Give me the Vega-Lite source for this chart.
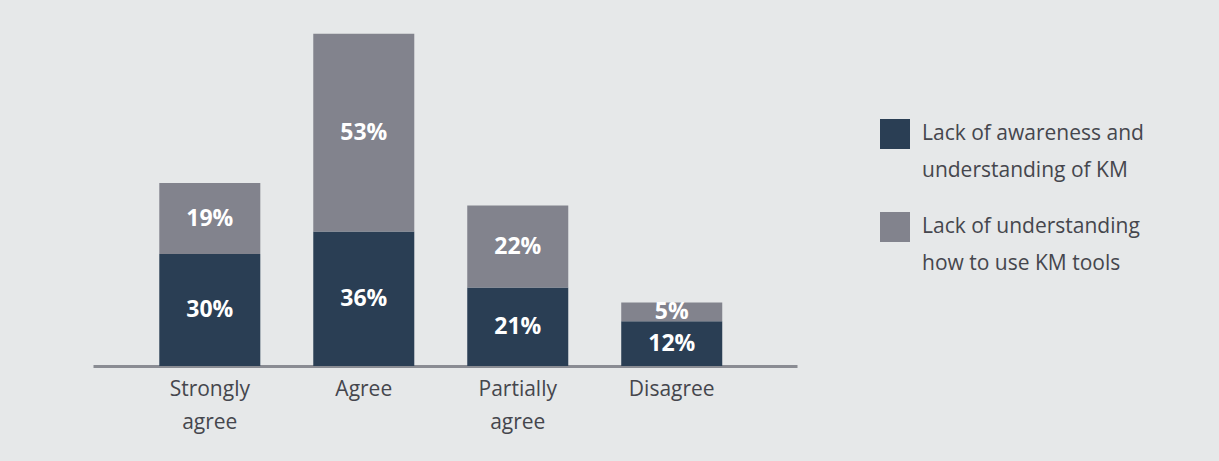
{
  "$schema": "https://vega.github.io/schema/vega-lite/v6.json",
  "width": 704,
  "height": 336,
  "autosize": {"type": "none"},
  "padding": {"left": 93, "top": 30, "right": 422, "bottom": 95},
  "background": "#e6e8e9",
  "config": {
    "view": {"stroke": null},
    "font": "Open Sans",
    "style": {"guide-label": {"lineHeight": 37}}
  },
  "data": {
    "values": [
      {"response": "Strongly agree", "series": "Lack of awareness and understanding of KM", "value": 0.30, "rank": 1},
      {"response": "Strongly agree", "series": "Lack of understanding how to use KM tools", "value": 0.19, "rank": 2},
      {"response": "Agree", "series": "Lack of awareness and understanding of KM", "value": 0.36, "rank": 1},
      {"response": "Agree", "series": "Lack of understanding how to use KM tools", "value": 0.53, "rank": 2},
      {"response": "Partially agree", "series": "Lack of awareness and understanding of KM", "value": 0.21, "rank": 1},
      {"response": "Partially agree", "series": "Lack of understanding how to use KM tools", "value": 0.22, "rank": 2},
      {"response": "Disagree", "series": "Lack of awareness and understanding of KM", "value": 0.12, "rank": 1},
      {"response": "Disagree", "series": "Lack of understanding how to use KM tools", "value": 0.05, "rank": 2}
    ]
  },
  "encoding": {
    "x": {
      "field": "response",
      "type": "nominal",
      "sort": ["Strongly agree", "Agree", "Partially agree", "Disagree"],
      "scale": {"paddingInner": 0.344, "paddingOuter": 0.458, "align": 0.47},
      "axis": {
        "title": null,
        "labelAngle": 0,
        "ticks": false,
        "domainColor": "#8a8c93",
        "domainWidth": 3,
        "labelFontSize": 21,
        "labelColor": "#45464d",
        "labelPadding": 12,
        "labelLineHeight": 33,
        "labelBaseline": "top",
        "labelExpr": "split(datum.label, ' ')",
        "zindex": 0
      }
    },
    "y": {
      "field": "value",
      "type": "quantitative",
      "stack": "zero",
      "scale": {"domain": [0, 0.9]},
      "axis": null
    },
    "order": {"field": "rank", "type": "quantitative"}
  },
  "layer": [
    {
      "mark": {"type": "bar"},
      "encoding": {
        "color": {
          "field": "series",
          "type": "nominal",
          "scale": {
            "domain": ["Lack of awareness and understanding of KM", "Lack of understanding how to use KM tools"],
            "range": ["#2a3e54", "#82838d"]
          },
          "legend": {
            "title": null,
            "orient": "none",
            "legendX": 787,
            "legendY": 89,
            "padding": 0,
            "symbolType": "square",
            "symbolSize": 900,
            "symbolStrokeWidth": 0,
            "symbolOpacity": 1,
            "labelFontSize": 21,
            "labelColor": "#45464d",
            "labelLimit": 400,
            "labelOffset": 12,
            "rowPadding": 31,
            "labelExpr": "datum.label == 'Lack of awareness and understanding of KM' ? ['Lack of awareness and', 'understanding of KM'] : ['Lack of understanding', 'how to use KM tools']"
          }
        }
      }
    },
    {
      "mark": {"type": "text", "color": "white", "fontWeight": "bold", "fontSize": 23, "baseline": "middle"},
      "encoding": {
        "y": {"field": "value", "type": "quantitative", "stack": "zero", "bandPosition": 0.5},
        "detail": {"field": "series"},
        "text": {"field": "value", "type": "quantitative", "format": ".0%"}
      }
    }
  ]
}
